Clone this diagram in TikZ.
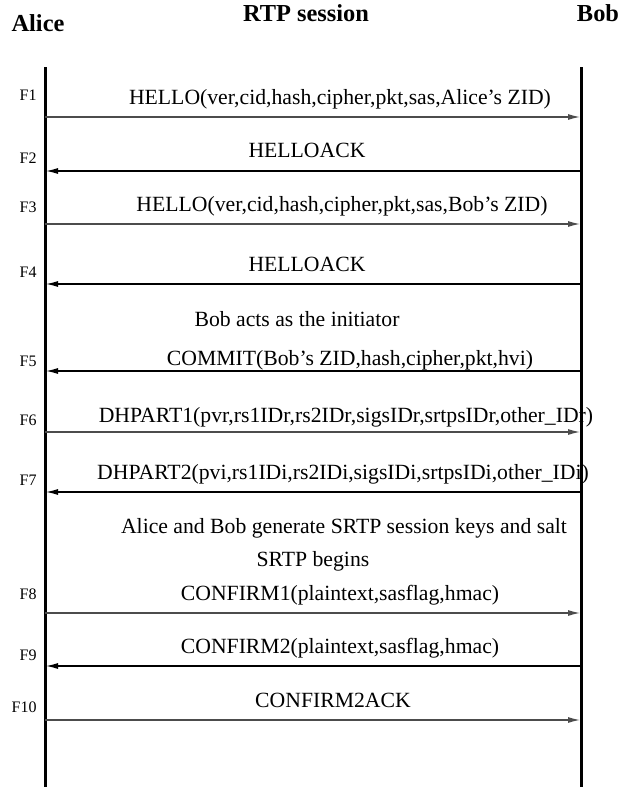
\documentclass[tikz,border=0pt]{standalone}
\usepackage{fontspec}
\setmainfont{Liberation Serif}
\usetikzlibrary{arrows.meta}
\tikzset{
  lifeline/.style={line width=1.5pt},
  msgarrow/.style={line width=0.6pt,-{Latex[length=6pt,width=3pt]}},
  msglabel/.style={anchor=base,inner sep=0pt,font=\fontsize{10.85}{13}\selectfont},
  flabel/.style={anchor=east,inner sep=0pt,font=\fontsize{8}{9.6}\selectfont},
  party/.style={anchor=base,inner sep=0pt,font=\fontsize{12.2}{14.6}\selectfont\bfseries}
}
\begin{document}
\begin{tikzpicture}[x=0.5pt,y=-0.5pt]
  \useasboundingbox (0,0) rectangle (619,787);
  % parties
  \node[party] (alice) at (38,32) {Alice};
  \node[party] (rtp) at (306,21) {RTP session};
  \node[party] (bob) at (598,21) {Bob};
  % lifelines
  \coordinate (atop) at (45,67);
  \coordinate (abot) at (45,787);
  \coordinate (btop) at (581,67);
  \coordinate (bbot) at (581,787);
  \draw[lifeline] (atop) -- (abot);
  \draw[lifeline] (btop) -- (bbot);
  % Alice -> Bob
  \foreach \i/\y/\fy in {1/117/95, 3/224/207, 6/432/420, 8/613/594, 10/720/707} {
    \coordinate (a\i) at (45,\y);
    \coordinate (b\i) at (580,\y);
    \draw[msgarrow,black!70] (a\i) -- (b\i);
    \node[flabel] (f\i) at (37,\fy) {F\i};
  }
  % Bob -> Alice
  \foreach \i/\y/\fy in {2/171/158, 4/284/272, 5/371/361, 7/492/480, 9/666/655} {
    \coordinate (a\i) at (46,\y);
    \coordinate (b\i) at (581,\y);
    \draw[msgarrow] (b\i) -- (a\i);
    \node[flabel] (f\i) at (37,\fy) {F\i};
  }
  % message texts
  \node[msglabel] (m1) at (340,104) {HELLO(ver,cid,hash,cipher,pkt,sas,Alice's ZID)};
  \node[msglabel] (m2) at (307,157) {HELLOACK};
  \node[msglabel] (m3) at (342,211) {HELLO(ver,cid,hash,cipher,pkt,sas,Bob's ZID)};
  \node[msglabel] (m4) at (307,271) {HELLOACK};
  \node[msglabel] (note1) at (297,326) {Bob acts as the initiator};
  \node[msglabel] (m5) at (350,365) {COMMIT(Bob's ZID,hash,cipher,pkt,hvi)};
  \node[msglabel] (m6) at (346,422) {DHPART1(pvr,rs1IDr,rs2IDr,sigsIDr,srtpsIDr,other\_IDr)};
  \node[msglabel] (m7) at (343,479) {DHPART2(pvi,rs1IDi,rs2IDi,sigsIDi,srtpsIDi,other\_IDi)};
  \node[msglabel] (note2) at (344,533) {Alice and Bob generate SRTP session keys and salt};
  \node[msglabel] (note3) at (313,566) {SRTP begins};
  \node[msglabel] (m8) at (340,600) {CONFIRM1(plaintext,sasflag,hmac)};
  \node[msglabel] (m9) at (340,653) {CONFIRM2(plaintext,sasflag,hmac)};
  \node[msglabel] (m10) at (333,707) {CONFIRM2ACK};
\end{tikzpicture}
\end{document}
